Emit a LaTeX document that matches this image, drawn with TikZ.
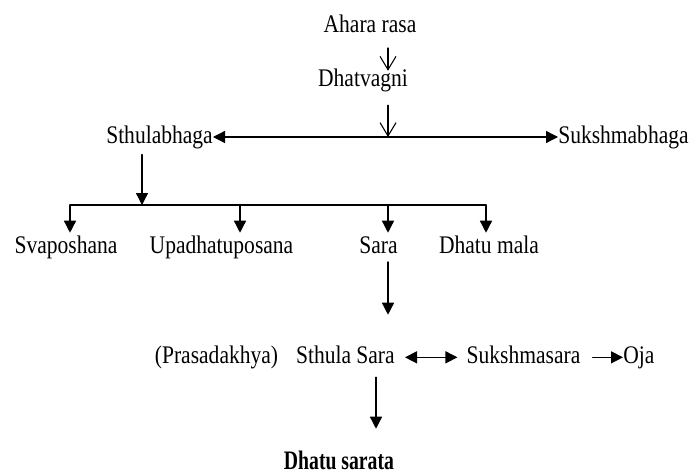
\documentclass[tikz,border=0pt]{standalone}
\usepackage{fontspec}
\setmainfont{Liberation Serif}[FakeStretch=0.85]
\usetikzlibrary{arrows.meta}

\tikzset{
  lbl/.style={anchor=base, inner sep=0pt, text height=12pt, text depth=3.5pt, font=\fontsize{19}{21}\selectfont},
  arr/.style={-{Triangle[length=9pt,width=9pt]}, line width=1pt},
  dblarr/.style={{Triangle[length=9pt,width=9pt]}-{Triangle[length=9pt,width=9pt]}, line width=1pt},
  openarr/.style={-{Straight Barb[length=10pt,width=12pt]}, line width=0.8pt}
}

\begin{document}
\begin{tikzpicture}[line cap=round,line join=round,x=0.75pt,y=-0.75pt]
\useasboundingbox (0,0) rectangle (691,474);
% nodes
\node[lbl] (ahara) at (370,33) {Ahara rasa};
\node[lbl] (dhat) at (363,87) {Dhatvagni};
\node[lbl,anchor=base east] (sthb) at (213,143) {Sthulabhaga};
\node[lbl,anchor=base west] (sukb) at (558,143) {Sukshmabhaga};
\node[lbl] (svap) at (66,253) {Svaposhana};
\node[lbl] (upad) at (221.5,253) {Upadhatuposana};
\node[lbl] (sara) at (378.5,253) {Sara};
\node[lbl] (dmala) at (489,253) {Dhatu mala};
\node[lbl] (pras) at (216.5,363) {(Prasadakhya)};
\node[lbl,anchor=base east] (ssara) at (395,363) {Sthula Sara};
\node[lbl] (sukm) at (523.5,363) {Sukshmasara};
\node[lbl,anchor=base west] (oja) at (623,363) {Oja};
\node[anchor=base, inner sep=0pt, text height=15pt, text depth=0pt, font=\fontsize{20}{24}\selectfont\bfseries] (sarata) at (339,469) {\scalebox{0.87}[1]{Dhatu sarata}};
% junctions
\coordinate (j1) at (388,137);
\coordinate (j2) at (142,205);
\coordinate (b1) at (70,205);
\coordinate (b2) at (240,205);
\coordinate (b3) at (388,205);
\coordinate (b4) at (486,205);
\coordinate (c1) at (376,0);
% connectors
\draw[openarr, shorten <=7.5pt] (ahara.south -| j1) -- (dhat.north -| j1);
\draw[openarr, shorten <=10pt] (dhat.south -| j1) -- (j1);
\draw[dblarr] (sthb.east |- j1) -- (sukb.west |- j1);
\draw[arr, shorten <=5pt] (sthb.south -| j2) -- (j2);
\draw[line width=1pt] (b1) -- (b4);
\foreach \b/\n in {b1/svap,b2/upad,b3/sara,b4/dmala}
  \draw[arr, shorten >=3pt] (\b) -- (\b |- \n.north);
\draw[arr, shorten <=3pt, shorten >=24pt] (sara.south -| b3) -- (ssara.north -| b3);
\draw[dblarr, shorten <=7.5pt, shorten >=6.75pt] (ssara.east) -- (sukm.west);
\draw[arr, shorten <=9pt] (sukm.east) -- (oja.west);
\draw[arr, shorten <=7pt, shorten >=15pt] (ssara.south -| c1) -- (sarata.north -| c1);
\end{tikzpicture}
\end{document}
